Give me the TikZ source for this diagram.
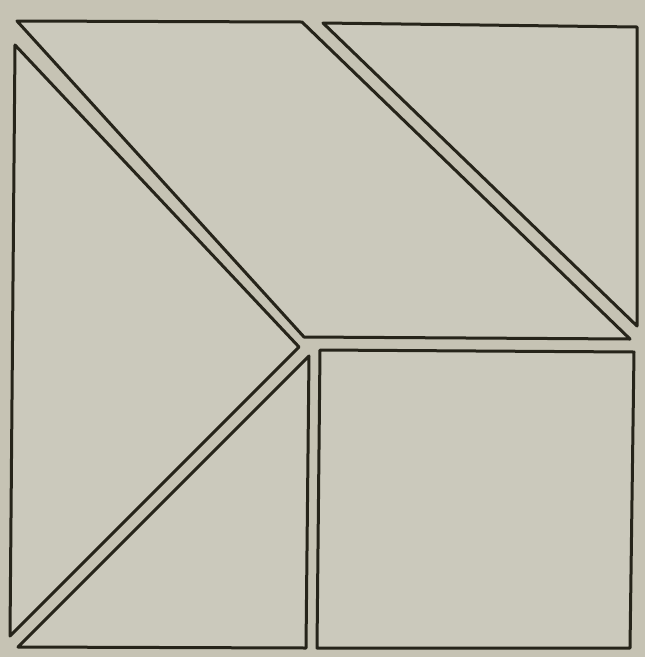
\documentclass[tikz,border=0pt]{standalone}
\usepackage{tikz}
\definecolor{paper}{RGB}{198,195,180}
\definecolor{piecefill}{RGB}{203,201,188}
\definecolor{ink}{RGB}{38,36,26}

\begin{document}
\begin{tikzpicture}[piece/.style={draw=ink, fill=piecefill, line width=3pt, line join=round},
				x=1pt, y=-1pt]
				% Bildbereich
				\fill[paper] (0,0) rectangle (645,657);
				\useasboundingbox (0,0) rectangle (645,657);
				% Ecken der Teile
				\coordinate (pA) at (17,21);  \coordinate (pB) at (302,22);
				\coordinate (pC) at (630,339); \coordinate (pD) at (304,337);
				\coordinate (tA) at (323,23); \coordinate (tB) at (637,27); \coordinate (tC) at (637,326);
				\coordinate (lA) at (15,45);  \coordinate (lB) at (299,347); \coordinate (lC) at (10,636);
				\coordinate (bA) at (309,356); \coordinate (bB) at (306,648); \coordinate (bC) at (18,647);
				\coordinate (sA) at (320,350); \coordinate (sB) at (634,352);
				\coordinate (sC) at (630,648); \coordinate (sD) at (317,648);
				% Parallelogramm oben
				\draw[piece] (pA) -- (pB) -- (pC) -- (pD) -- cycle;
				% Dreieck oben rechts
				\draw[piece] (tA) -- (tB) -- (tC) -- cycle;
				% Dreieck links
				\draw[piece] (lA) -- (lB) -- (lC) -- cycle;
				% Dreieck unten
				\draw[piece] (bA) -- (bB) -- (bC) -- cycle;
				% Quadrat unten rechts
				\draw[piece] (sA) -- (sB) -- (sC) -- (sD) -- cycle;
			\end{tikzpicture}
\end{document}
